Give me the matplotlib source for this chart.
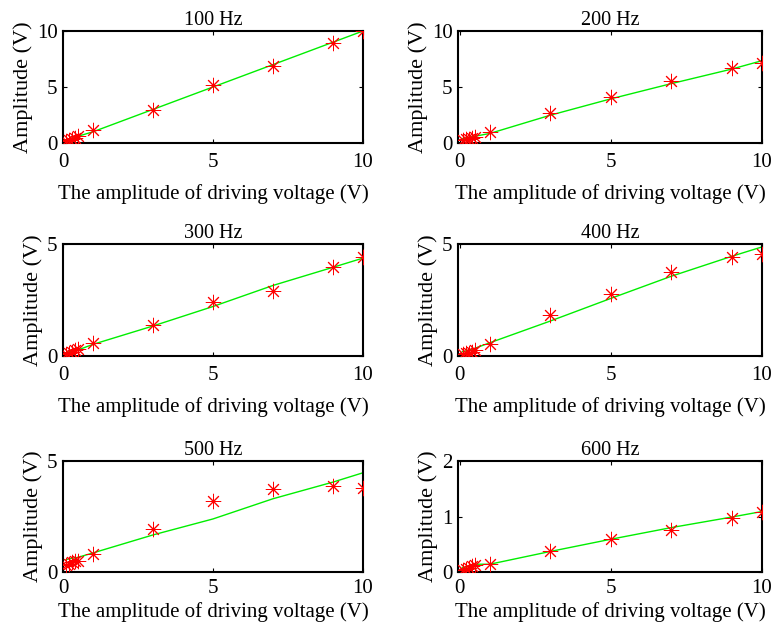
import matplotlib
matplotlib.use("Agg")
import matplotlib.pyplot as plt

plt.rcParams['font.family'] = ['Liberation Serif', 'DejaVu Serif']
plt.rcParams['mathtext.fontset'] = 'stix'

titles = ["100 Hz", "200 Hz", "300 Hz", "400 Hz", "500 Hz", "600 Hz"]
drive_v = [0.1, 0.2, 0.3, 0.4, 0.5, 1, 3, 5, 7, 9, 10]

meas_100 = [0.2, 0.3, 0.35, 0.45, 0.6, 1.19, 2.98, 5.15, 6.88, 8.96, 10.0]
sim_100 = [0.3, 0.35, 0.42, 0.5, 0.6, 1.0, 3.0, 5.0, 7.0, 9.0, 10.0]

meas_200 = [0.3, 0.35, 0.4, 0.45, 0.5, 1.0, 2.64, 4.15, 5.5, 6.67, 7.18]
sim_200 = [0.4, 0.45, 0.5, 0.55, 0.6, 0.85, 2.48, 3.94, 5.3, 6.6, 7.35]

meas_300 = [0.1, 0.15, 0.2, 0.25, 0.3, 0.57, 1.39, 2.43, 2.91, 3.97, 4.42]
sim_300 = [0.15, 0.19, 0.22, 0.25, 0.27, 0.52, 1.34, 2.21, 3.15, 3.96, 4.37]

meas_400 = [0.1, 0.12, 0.15, 0.2, 0.25, 0.52, 1.82, 2.79, 3.75, 4.42, 4.57]
sim_400 = [0.2, 0.22, 0.26, 0.3, 0.34, 0.59, 1.56, 2.57, 3.56, 4.45, 4.87]

meas_500 = [0.3, 0.35, 0.45, 0.5, 0.5, 0.79, 1.92, 3.18, 3.74, 3.89, 3.79]
sim_500 = [0.55, 0.6, 0.62, 0.64, 0.66, 0.86, 1.67, 2.39, 3.3, 4.05, 4.47]

meas_600 = [0.04, 0.06, 0.08, 0.1, 0.12, 0.15, 0.37, 0.59, 0.76, 0.98, 1.08]
sim_600 = [0.08, 0.09, 0.11, 0.13, 0.14, 0.14, 0.37, 0.59, 0.8, 0.99, 1.09]

measured = [meas_100, meas_200, meas_300, meas_400, meas_500, meas_600]
simulated = [sim_100, sim_200, sim_300, sim_400, sim_500, sim_600]
y_max = [10, 10, 5, 5, 5, 2]
y_ticks = [[0, 5, 10], [0, 5, 10], [0, 5], [0, 5], [0, 5], [0, 1, 2]]
x_min = [0, -0.05, 0, -0.05, 0, -0.05]
x_ticks = [0, 5, 10]

fig = plt.figure(figsize=(7.73, 6.29), dpi=100)
W, H = 773, 629
cols = [(63, 300), (458, 304)]
rows = [(31, 143), (244, 356), (461, 572)]
xtick_pad = [7, 7, 5]
xlabel_pad = [9, 9, 3]

for i in range(6):
    r, c = divmod(i, 2)
    left, width = cols[c]
    top, bottom = rows[r]
    ax = fig.add_axes([left / W, 1 - bottom / H, width / W, (bottom - top) / H])
    ax.plot(drive_v, simulated[i], color='#00ee00', lw=1.0, zorder=2)
    ax.plot(drive_v, measured[i], linestyle='none', marker=(8, 2, 0),
            markersize=11, markeredgewidth=0.7, color='red', zorder=3)
    ax.set_xlim(x_min[i], 10)
    ax.set_ylim(0, y_max[i])
    ax.set_xticks(x_ticks)
    ax.set_yticks(y_ticks[i])
    ax.tick_params(direction='in', top=True, right=True, length=3,
                   width=0.8, labelsize=15)
    ax.tick_params(axis='x', pad=xtick_pad[r])
    ax.tick_params(axis='y', pad=4)
    for s in ax.spines.values():
        s.set_linewidth(1.5)
    ax.set_title(titles[i], fontsize=14.5, pad=4)
    ax.set_xlabel("The amplitude of driving voltage (V)", fontsize=15,
                  labelpad=xlabel_pad[r])
    ax.set_ylabel("Amplitude (V)", fontsize=16, labelpad=3)

fig.savefig("out.png", dpi=100)
